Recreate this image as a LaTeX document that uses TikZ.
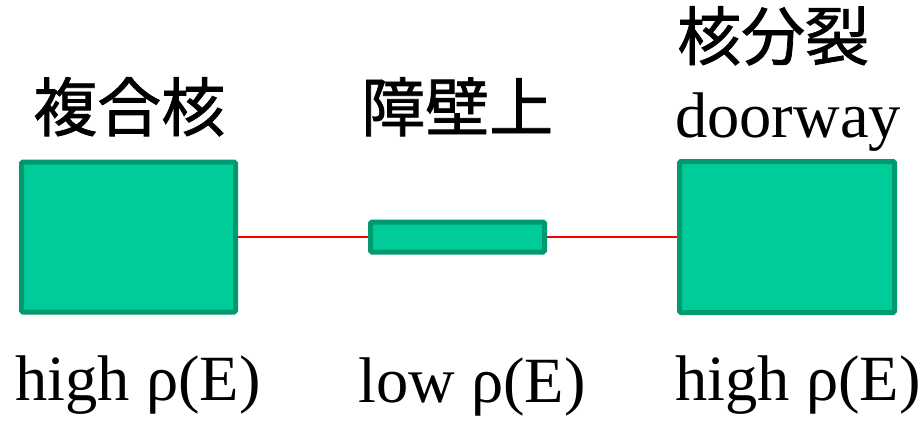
\documentclass[tikz,border=0pt]{standalone}
\usepackage{fontspec}
\setmainfont{Liberation Serif}
\newfontfamily\cjk[FakeBold=1.2]{Noto Sans CJK JP}
\definecolor{boxfill}{HTML}{00CC99}
\definecolor{boxline}{HTML}{009970}
\definecolor{linkred}{HTML}{FF0000}
\begin{document}
\begin{tikzpicture}[x=1pt,y=-1pt,
  box/.style={draw=boxline,fill=boxfill,line width=5pt,rounded corners=1.5pt,inner sep=0pt},
  link/.style={draw=linkred,line width=1.5pt},
  jlabel/.style={anchor=base west,inner sep=0pt,font=\cjk\fontsize{64}{70}\selectfont},
  elabel/.style={anchor=base west,inner sep=0pt,font=\fontsize{64.5}{70}\selectfont}]
\useasboundingbox (0,0) rectangle (924,426);
\node[box,minimum width=214pt,minimum height=150pt] (cn) at (128.5,237) {};
\node[box,minimum width=174pt,minimum height=30pt] (bar) at (457.5,237) {};
\node[box,minimum width=215pt,minimum height=151pt] (fis) at (787,237) {};
\draw[link] (cn.east) -- (bar.west);
\draw[link] (bar.east) -- (fis.west);
\node[jlabel] (t1) at (33,131) {複合核};
\node[jlabel] (t2) at (361,131) {障壁上};
\node[jlabel] (t3) at (677,60) {核分裂};
\node[elabel] (d3) at (675,137) {doorway};
\node[elabel] (r1) at (15,400) {high ρ(E)};
\node[elabel] (r2) at (358,402) {low ρ(E)};
\node[elabel] (r3) at (675,400) {high ρ(E)};
\end{tikzpicture}
\end{document}
